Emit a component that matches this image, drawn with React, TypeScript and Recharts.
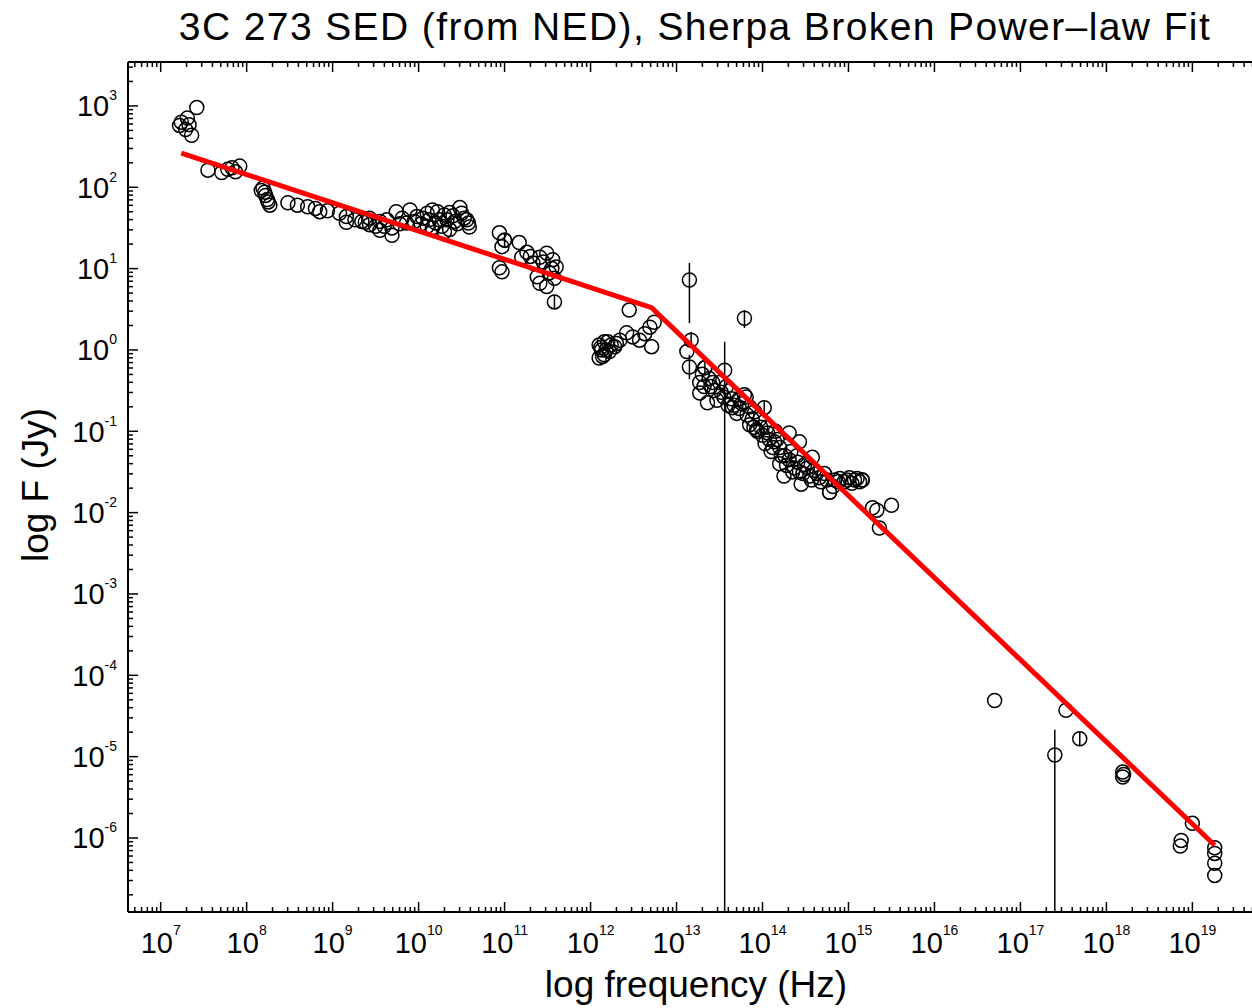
import React from 'react';
import { ScatterChart, Scatter, XAxis, YAxis, ErrorBar } from 'recharts';

// all values are log10: frequency in Hz, flux density in Jy
const X_MIN = 6.62;
const X_MAX = 19.74;
const Y_MIN = -6.91;
const Y_MAX = 3.54;

const radioNu = [7.22, 7.24, 7.29, 7.31, 7.33, 7.36, 7.42, 7.55, 7.71, 7.78, 7.83, 7.87, 7.92, 8.19, 8.21, 8.22, 8.24, 8.27, 8.48, 8.59, 8.71, 8.8, 8.85, 8.94, 9.08, 9.16, 9.16, 9.26, 9.34, 9.43, 9.43, 9.55, 9.55, 9.6, 9.69, 9.69, 9.74, 9.81, 9.86, 9.9, 9.98, 10.03, 10.1, 10.1, 10.16, 10.16, 10.24, 10.3, 10.3, 10.36, 10.36, 10.42, 10.48, 10.53, 10.56, 10.59, 9.38, 9.5, 9.63, 9.78, 9.95, 10.05, 10.12, 10.2, 10.22, 10.27, 10.33, 10.4, 10.45, 10.5, 10.58, 8.17, 8.25];
const radioF = [2.76, 2.8, 2.71, 2.85, 2.77, 2.64, 2.98, 2.21, 2.18, 2.22, 2.24, 2.19, 2.26, 1.99, 1.94, 1.9, 1.85, 1.78, 1.81, 1.78, 1.76, 1.74, 1.7, 1.71, 1.68, 1.57, 1.64, 1.6, 1.58, 1.54, 1.62, 1.58, 1.47, 1.52, 1.5, 1.41, 1.7, 1.62, 1.56, 1.72, 1.64, 1.55, 1.68, 1.52, 1.72, 1.5, 1.6, 1.66, 1.45, 1.69, 1.48, 1.58, 1.75, 1.62, 1.6, 1.51, 1.57, 1.52, 1.6, 1.55, 1.58, 1.62, 1.6, 1.56, 1.7, 1.52, 1.6, 1.65, 1.55, 1.68, 1.56, 1.96, 1.82];

const mmNu = [10.94, 10.94, 10.97, 10.97, 11.0, 11.17, 11.2, 11.26, 11.33, 11.41, 11.41, 11.49, 11.49, 11.52, 11.56, 11.6, 11.3, 11.38, 11.45, 11.55, 11.58];
const mmF = [1.44, 1.01, 1.27, 0.96, 1.35, 1.32, 1.14, 1.2, 1.07, 1.14, 0.82, 1.19, 0.78, 0.95, 1.11, 1.02, 1.15, 0.9, 1.08, 1.0, 0.88];

const irNu = [12.1, 12.1, 12.13, 12.16, 12.16, 12.2, 12.22, 12.28, 12.34, 12.42, 12.45, 12.49, 12.57, 12.63, 12.69, 12.71, 12.74, 13.12, 13.27, 13.27, 13.3, 13.33, 13.36, 13.38, 13.4, 13.44, 13.5, 13.55, 13.6, 13.62, 13.65, 13.67, 13.73, 13.73, 13.79, 13.81, 13.85, 13.85, 13.91, 13.93, 13.94, 13.97, 14.0, 14.05, 14.08, 14.1, 14.14, 14.15, 14.2, 14.2, 14.25, 14.26, 14.31, 14.31, 14.37, 14.4, 14.43, 14.43, 14.45, 14.49, 14.55, 14.58, 14.6, 14.66, 14.72, 14.78, 14.78, 14.84, 14.9, 14.95, 15.01, 15.07, 15.13, 15.16, 15.16, 15.28, 12.12, 12.14, 12.18, 12.24, 12.3, 13.32, 13.42, 13.47, 13.52, 13.58, 13.64, 13.7, 13.76, 13.82, 13.88, 13.9, 13.98, 14.03, 14.06, 14.12, 14.17, 14.22, 14.28, 14.33, 14.35, 14.41, 14.47, 14.52, 14.57, 14.63, 14.68, 14.75, 14.82, 14.88, 14.98, 15.04, 15.1];
const irF = [0.06, -0.1, 0.0, -0.06, 0.1, 0.1, -0.02, 0.04, 0.12, 0.21, 0.49, 0.16, 0.12, 0.2, 0.28, 0.04, 0.34, -0.02, -0.4, -0.53, -0.3, -0.22, -0.65, -0.35, -0.45, -0.5, -0.4, -0.58, -0.68, -0.5, -0.71, -0.68, -0.6, -0.72, -0.55, -0.58, -0.7, -0.92, -0.76, -0.98, -1.0, -0.85, -1.05, -0.95, -1.1, -1.25, -1.13, -1.0, -1.2, -1.4, -1.55, -1.3, -1.35, -1.02, -1.45, -1.3, -1.5, -1.13, -1.65, -1.41, -1.55, -1.32, -1.48, -1.57, -1.52, -1.75, -1.75, -1.6, -1.58, -1.62, -1.57, -1.6, -1.62, -1.6, -1.6, -1.94, 0.03, -0.08, 0.0, 0.06, 0.08, -0.45, -0.4, -0.62, -0.52, -0.45, -0.6, -0.78, -0.66, -0.8, -0.85, -0.95, -0.95, -1.15, -1.02, -1.2, -1.1, -1.3, -1.42, -1.25, -1.5, -1.38, -1.52, -1.45, -1.6, -1.52, -1.62, -1.6, -1.68, -1.62, -1.6, -1.64, -1.58];

const highNu = [15.33, 15.36, 15.5, 16.7, 17.53, 18.19, 18.19, 18.2, 18.86, 18.87, 19.0, 19.26, 19.26, 19.26, 19.26];
const highF = [-1.97, -2.19, -1.91, -4.31, -4.43, -5.19, -5.25, -5.22, -6.1, -6.03, -5.82, -6.12, -6.19, -6.31, -6.46];

// points drawn with visible error bars
const errNu = [11.58, 13.15, 13.17, 13.15, 13.56, 13.79, 14.02, 17.4, 17.69, 11.0, 13.33];
const errF = [0.59, 0.86, 0.12, -0.21, -0.25, 0.39, -0.71, -4.98, -4.78, 1.35, -0.22];
const errLo = [0.08, 0.53, 0.1, 0.15, 6.66, 0.12, 0.08, 1.93, 0.08, 0.08, 0.08];
const errHi = [0.08, 0.21, 0.1, 0.15, 0.35, 0.1, 0.08, 0.31, 0.08, 0.08, 0.08];

// broken power-law model
const fitNu = [7.24, 12.71, 19.26];
const fitF = [2.42, 0.52, -6.09];

const xMajorExps = [7, 8, 9, 10, 11, 12, 13, 14, 15, 16, 17, 18, 19];
const yMajorExps = [-6, -5, -4, -3, -2, -1, 0, 1, 2, 3];

const zip = (xs: number[], ys: number[]) => xs.map((x, i) => ({ x, y: ys[i] }));

const dataPoints = [...zip(radioNu, radioF), ...zip(mmNu, mmF), ...zip(irNu, irF), ...zip(highNu, highF)];
const errPoints = errNu.map((x, i) => ({ x, y: errF[i], err: [errLo[i], errHi[i]] }));
const fitPoints = zip(fitNu, fitF);

const logTicks = (lo: number, hi: number) => {
  const out: number[] = [];
  for (let e = Math.floor(lo); e <= Math.ceil(hi); e++) {
    for (let k = 1; k <= 9; k++) {
      const v = e + Math.log10(k);
      if (v >= lo && v <= hi) out.push(v);
    }
  }
  return out;
};

const xTicks = logTicks(X_MIN, X_MAX);
const yTicks = logTicks(Y_MIN, Y_MAX);

const FONT = '"Liberation Sans", Arial, Helvetica, sans-serif';

const isMajor = (v: number) => Math.abs(v - Math.round(v)) < 1e-6;

const AxisTick = (props: any) => {
  const { x, y, payload, side } = props;
  const v = payload.value;
  const major = isMajor(v);
  const len = major ? 10 : 5;
  const exp = Math.round(v);
  let line = null;
  let label = null;
  if (side === 'bottom') {
    line = <line x1={x} x2={x} y1={y} y2={y - len} stroke="#000" strokeWidth={1.5} />;
    if (major && xMajorExps.includes(exp)) {
      label = (
        <text x={x} y={y + 41} textAnchor="middle" fontSize={29} fontFamily={FONT} fill="#000">
          10<tspan fontSize={14} dy={-18}>{exp}</tspan>
        </text>
      );
    }
  } else if (side === 'top') {
    line = <line x1={x} x2={x} y1={y} y2={y + len} stroke="#000" strokeWidth={1.5} />;
  } else if (side === 'left') {
    line = <line x1={x} x2={x + len} y1={y} y2={y} stroke="#000" strokeWidth={1.5} />;
    if (major && yMajorExps.includes(exp)) {
      label = (
        <text x={x - 11} y={y + 10.5} textAnchor="end" fontSize={29} fontFamily={FONT} fill="#000">
          10<tspan fontSize={14} dy={-16}>{exp}</tspan>
        </text>
      );
    }
  }
  return (
    <g>
      {line}
      {label}
    </g>
  );
};

const Circle = (p: any) => <circle cx={p.cx} cy={p.cy} r={7} fill="none" stroke="#000" strokeWidth={1.5} />;

const App: React.FC = () => {
  return (
    <div style={{ position: 'absolute', left: 0, top: 0, width: 1252, height: 1008, overflow: 'hidden', background: '#fff' }}>
      <ScatterChart width={1262} height={1008} margin={{ top: 42, right: 6, bottom: 56, left: 48 }}>
        <XAxis
          xAxisId="bottom"
          orientation="bottom"
          type="number"
          dataKey="x"
          domain={[X_MIN, X_MAX]}
          allowDataOverflow
          ticks={xTicks}
          interval={0}
          height={40}
          tickSize={0}
          tickMargin={0}
          tickLine={false}
          axisLine={{ stroke: '#000', strokeWidth: 2 }}
          tick={(p: any) => <AxisTick {...p} side="bottom" />}
        />
        <XAxis
          xAxisId="top"
          orientation="top"
          type="number"
          dataKey="x"
          domain={[X_MIN, X_MAX]}
          allowDataOverflow
          ticks={xTicks}
          interval={0}
          height={20}
          tickSize={0}
          tickMargin={0}
          tickLine={false}
          axisLine={{ stroke: '#000', strokeWidth: 2 }}
          tick={(p: any) => <AxisTick {...p} side="top" />}
        />
        <YAxis
          yAxisId="left"
          orientation="left"
          type="number"
          dataKey="y"
          domain={[Y_MIN, Y_MAX]}
          allowDataOverflow
          ticks={yTicks}
          interval={0}
          width={80}
          tickSize={0}
          tickMargin={0}
          tickLine={false}
          axisLine={{ stroke: '#000', strokeWidth: 2 }}
          tick={(p: any) => <AxisTick {...p} side="left" />}
        />
        <Scatter xAxisId="bottom" yAxisId="left" data={dataPoints} shape={Circle} isAnimationActive={false} />
        <Scatter xAxisId="bottom" yAxisId="left" data={errPoints} shape={Circle} isAnimationActive={false}>
          <ErrorBar dataKey="err" direction="y" width={0} stroke="#000" strokeWidth={1.5} isAnimationActive={false} />
        </Scatter>
        <Scatter
          xAxisId="bottom"
          yAxisId="left"
          data={fitPoints}
          line={{ stroke: '#ff0000', strokeWidth: 5 }}
          shape={() => <g />}
          isAnimationActive={false}
        />
      </ScatterChart>
      <svg width={1252} height={1008} style={{ position: 'absolute', left: 0, top: 0, pointerEvents: 'none' }}>
        <text x={695} y={40} textAnchor="middle" fontSize={39} letterSpacing={1.4} fontFamily={FONT} fill="#000">
          3C 273 SED (from NED), Sherpa Broken Power–law Fit
        </text>
        <text x={696} y={997} textAnchor="middle" fontSize={37} fontFamily={FONT} fill="#000">
          log frequency (Hz)
        </text>
        <text transform="translate(48,485) rotate(-90)" textAnchor="middle" fontSize={37} fontFamily={FONT} fill="#000">
          log F (Jy)
        </text>
      </svg>
    </div>
  );
};

export default App;
